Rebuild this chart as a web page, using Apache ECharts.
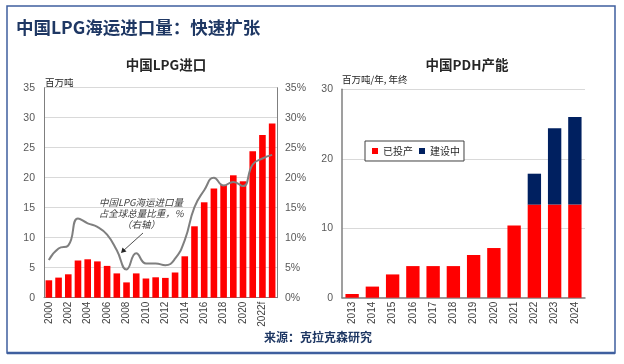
<!DOCTYPE html>
<html><head><meta charset="utf-8">
<script src="https://cdn.jsdelivr.net/npm/echarts@6/dist/echarts.min.js"></script>
<style>html,body{margin:0;padding:0;background:#fff}#c{width:624px;height:364px}</style>
</head><body><div id="c"></div>
<script>
// Left chart: China LPG seaborne imports
const lpgYears = ['2000','2001','2002','2003','2004','2005','2006','2007','2008','2009','2010','2011','2012','2013','2014','2015','2016','2017','2018','2019','2020','2021','2022f','2023'];
const lpgImports = [2.9,3.35,3.9,6.2,6.4,6.05,5.3,4.05,2.55,4.05,3.2,3.4,3.3,4.2,6.9,11.9,15.9,18.2,18.8,20.4,19.4,24.4,27.1,29.05];
const lpgShare = [6.3,8.2,8.7,13.2,12.4,11.8,10.5,7.9,4.7,7.4,5.7,5.7,5.4,6.5,9.6,15.1,17.9,20.0,18.7,19.3,18.6,22.2,23.2,23.8];
const leftTicks = [0,5,10,15,20,25,30,35];
// Right chart: China PDH capacity
const pdhYears = ['2013','2014','2015','2016','2017','2018','2019','2020','2021','2022','2023','2024'];
const pdhOperating = [0.53,1.6,3.35,4.55,4.55,4.55,6.15,7.15,10.4,13.4,13.4,13.4];
const pdhUnderConstruction = [0,0,0,0,0,0,0,0,0,4.45,11.0,12.6];
const rightTicks = [0,10,20,30];

const CJK = '"Noto Sans CJK SC", "Liberation Sans", sans-serif';
const NUM = '"Liberation Sans", Arial, sans-serif';
const NAVY = '#1f3864';
const axisGrey = '#595959';

const chart = echarts.init(document.getElementById('c'), null, {renderer:'canvas'});
chart.setOption({
  animation:false,
  backgroundColor:'#fff',
  textStyle:{fontFamily:CJK},
  title:[
    {text:'中国LPG进口', left:161, top:53, textAlign:'center', textStyle:{fontSize:13.5, fontWeight:'bold', color:'#262626', fontFamily:CJK}},
    {text:'中国PDH产能', left:462, top:53, textAlign:'center', textStyle:{fontSize:13.5, fontWeight:'bold', color:'#262626', fontFamily:CJK}}
  ],
  legend:{
    data:['已投产','建设中'], left:365, top:141, orient:'horizontal',
    icon:'rect', itemWidth:6, itemHeight:6, itemGap:6,
    padding:[5,4,5,7], borderColor:'#404040', borderWidth:1, backgroundColor:'#fff',
    textStyle:{fontSize:10, color:'#262626', fontFamily:CJK}
  },
  grid:[
    {left:44, width:233, top:87.7, height:210, containLabel:false},
    {left:342, width:243, top:89.3, height:208.4, containLabel:false}
  ],
  xAxis:[
    {type:'category', gridIndex:0, data:lpgYears, boundaryGap:true,
     axisLine:{lineStyle:{color:'#7f7f7f', width:1}}, axisTick:{show:false},
     axisLabel:{interval:1, rotate:90, margin:4, fontSize:10, color:'#404040', fontFamily:NUM}},
    {type:'category', gridIndex:1, data:pdhYears, boundaryGap:true,
     axisLine:{lineStyle:{color:'#7f7f7f', width:1.5}}, axisTick:{show:false},
     axisLabel:{interval:0, rotate:90, margin:4, fontSize:10, color:'#404040', fontFamily:NUM}}
  ],
  yAxis:[
    {type:'value', gridIndex:0, min:0, max:35, interval:5, position:'left',
     axisLine:{show:true, lineStyle:{color:'#7f7f7f'}}, axisTick:{show:false},
     splitLine:{lineStyle:{color:'#d9d9d9'}},
     axisLabel:{margin:9, fontSize:10.5, color:axisGrey, fontFamily:NUM}},
    {type:'value', gridIndex:0, min:0, max:35, interval:5, position:'right',
     axisLine:{show:true, lineStyle:{color:'#7f7f7f'}}, axisTick:{show:false},
     splitLine:{show:false},
     axisLabel:{margin:8, fontSize:10.5, color:axisGrey, fontFamily:NUM, formatter:v=>v+'%'}},
    {type:'value', gridIndex:1, min:0, max:30, interval:10, position:'left',
     axisLine:{show:true, lineStyle:{color:'#7f7f7f', width:1.5}}, axisTick:{show:false},
     splitLine:{lineStyle:{color:'#d9d9d9'}},
     axisLabel:{margin:9, fontSize:10.5, color:axisGrey, fontFamily:NUM}}
  ],
  series:[
    {name:'LPG进口', type:'bar', xAxisIndex:0, yAxisIndex:0, data:lpgImports, barWidth:'68%',
     itemStyle:{color:'#ff0000'}},
    {name:'占比', type:'line', xAxisIndex:0, yAxisIndex:1, data:lpgShare, smooth:0.5,
     symbol:'none', lineStyle:{color:'#7f7f7f', width:2}, z:5},
    {name:'已投产', type:'bar', xAxisIndex:1, yAxisIndex:2, stack:'pdh', data:pdhOperating, barWidth:'66%',
     itemStyle:{color:'#ff0000'}},
    {name:'建设中', type:'bar', xAxisIndex:1, yAxisIndex:2, stack:'pdh', data:pdhUnderConstruction, barWidth:'66%',
     itemStyle:{color:'#002060'}}
  ],
  graphic:[
    {type:'rect', shape:{x:7, y:6, width:608, height:347}, style:{fill:null, stroke:'#3f5f9f', lineWidth:1.5}, silent:true},
    {type:'line', shape:{x1:7, y1:353, x2:615, y2:353}, style:{stroke:'#3f5f9f', lineWidth:2.5}, silent:true},
    {type:'text', left:16, top:19, style:{text:'中国LPG海运进口量：快速扩张', fill:NAVY, font:'bold 17.5px "Noto Sans CJK SC", sans-serif'}},
    {type:'text', left:45, top:78, style:{text:'百万吨', fill:'#262626', font:'9.5px "Noto Sans CJK SC", sans-serif'}},
    {type:'text', left:342, top:75, style:{text:'百万吨/年, 年终', fill:'#262626', font:'9.5px "Noto Sans CJK SC", sans-serif'}},
    {type:'text', x:141, y:197, style:{text:'中国LPG海运进口量\n占全球总量比重，%\n（右轴）', fill:'#404040', align:'center', lineHeight:11, font:'italic 9.5px "Noto Sans CJK SC", sans-serif'}, z:10},
    {type:'line', shape:{x1:143, y1:233, x2:123, y2:251}, style:{stroke:'#262626', lineWidth:0.8}, z:10},
    {type:'polygon', shape:{points:[[121,253],[122.5,247.5],[126.5,251.5]]}, style:{fill:'#262626'}, z:10},
    {type:'text', x:318, y:337, style:{text:'来源：克拉克森研究', fill:NAVY, align:'center', verticalAlign:'middle', font:'bold 12px "Noto Sans CJK SC", sans-serif'}}
  ]
});
</script></body></html>
